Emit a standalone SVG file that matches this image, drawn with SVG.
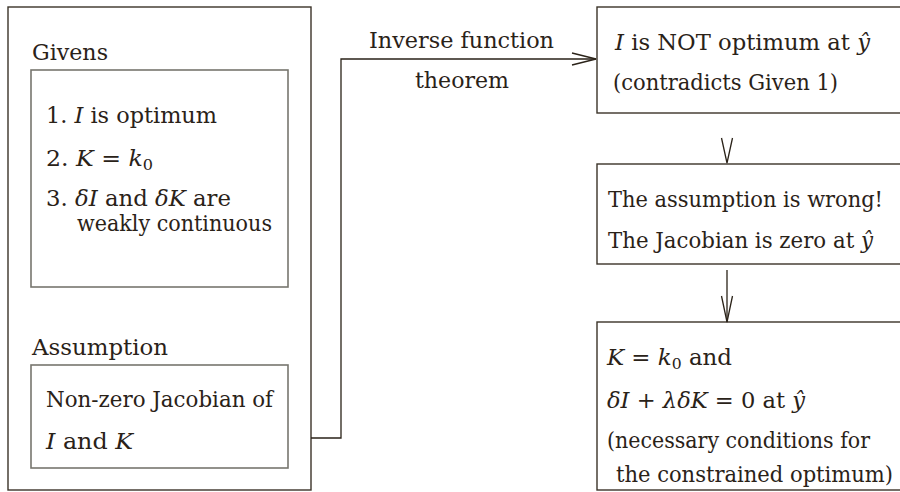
<svg xmlns="http://www.w3.org/2000/svg" width="900" height="492" viewBox="0 0 900 492">
<style>
.it{font-style:italic}
.outer{fill:none;stroke:#3b3328;stroke-width:1.4}
.inner{fill:none;stroke:#77766e;stroke-width:1.6}
.conn{fill:none;stroke:#2a2218;stroke-width:1.3}
</style>
<rect width="900" height="492" fill="#ffffff"/>
<g font-family="DejaVu Serif, Liberation Serif, serif" font-size="22" fill="#2a2218">
<g id="left-panel">
<rect class="outer" x="8" y="7" width="303" height="483"/>
<text x="32" y="60" textLength="76" lengthAdjust="spacingAndGlyphs">Givens</text>
</g>
<g id="givens">
<rect class="inner" x="31" y="70" width="257" height="217"/>
<text x="46" y="123" textLength="171" lengthAdjust="spacingAndGlyphs">1. <tspan class="it">I</tspan> is optimum</text>
<text x="46" y="166" textLength="107" lengthAdjust="spacingAndGlyphs">2. <tspan class="it">K</tspan> = <tspan class="it">k</tspan><tspan font-size="15" dy="4">0</tspan></text>
<text x="46" y="206" textLength="185" lengthAdjust="spacingAndGlyphs">3. <tspan class="it">δI</tspan> and <tspan class="it">δK</tspan> are</text>
<text x="77" y="231" textLength="195" lengthAdjust="spacingAndGlyphs">weakly continuous</text>
</g>
<g id="assumption-label">
<text x="32" y="355" textLength="136" lengthAdjust="spacingAndGlyphs">Assumption</text>
</g>
<g id="assumption">
<rect class="inner" x="31" y="365" width="257" height="103"/>
<text x="46" y="407" textLength="227" lengthAdjust="spacingAndGlyphs">Non-zero Jacobian of</text>
<text x="46" y="449" textLength="87" lengthAdjust="spacingAndGlyphs"><tspan class="it">I</tspan> and <tspan class="it">K</tspan></text>
</g>
<g id="not-optimum">
<rect class="outer" x="597" y="7" width="310" height="106"/>
<text x="615" y="50" textLength="255" lengthAdjust="spacingAndGlyphs"><tspan class="it">I</tspan> is NOT optimum at <tspan class="it">ŷ</tspan></text>
<text x="613" y="90" textLength="225" lengthAdjust="spacingAndGlyphs">(contradicts Given 1)</text>
</g>
<g id="wrong">
<rect class="outer" x="597" y="164" width="310" height="100"/>
<text x="608" y="207" textLength="275" lengthAdjust="spacingAndGlyphs">The assumption is wrong!</text>
<text x="608" y="248" textLength="265" lengthAdjust="spacingAndGlyphs">The Jacobian is zero at <tspan class="it">ŷ</tspan></text>
</g>
<g id="conditions">
<rect class="outer" x="597" y="322" width="310" height="168"/>
<text x="607" y="365" textLength="125" lengthAdjust="spacingAndGlyphs"><tspan class="it">K</tspan> = <tspan class="it">k</tspan><tspan font-size="15" dy="4">0</tspan><tspan dy="-4"> and</tspan></text>
<text x="607" y="408" textLength="198" lengthAdjust="spacingAndGlyphs"><tspan class="it">δI</tspan> + <tspan class="it">λδK</tspan> = 0 at <tspan class="it">ŷ</tspan></text>
<text x="607" y="448" textLength="263" lengthAdjust="spacingAndGlyphs">(necessary conditions for</text>
<text x="616" y="482" textLength="277" lengthAdjust="spacingAndGlyphs">the constrained optimum)</text>
</g>
<g id="connectors">
<path class="conn" d="M311,438 H341 V59 H596"/>
<polyline class="conn" points="572,53 596,59 572,65"/>
<text x="461.5" y="48" text-anchor="middle" textLength="185" lengthAdjust="spacingAndGlyphs">Inverse function</text>
<text x="462" y="88" text-anchor="middle" textLength="94" lengthAdjust="spacingAndGlyphs">theorem</text>
<polyline class="conn" points="721.5,138 727,163 732.5,138"/>
<path class="conn" d="M727,270 V322"/>
<polyline class="conn" points="721.5,296 727,322 732.5,296"/>
</g>
</g>
</svg>
